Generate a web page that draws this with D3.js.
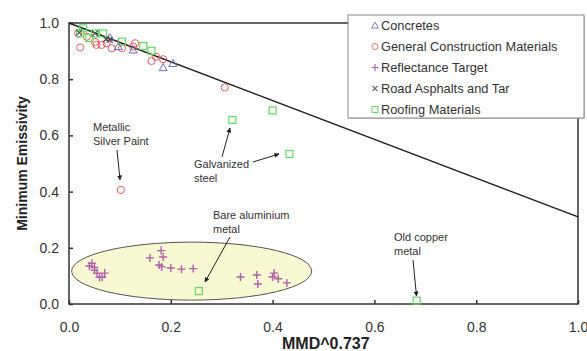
<!DOCTYPE html>
<html>
<head>
<meta charset="utf-8">
<script src="https://cdn.jsdelivr.net/npm/d3@7"></script>
<style>
  body { margin: 0; background: #fff; }
  text { font-family: "Liberation Sans", Arial, sans-serif; }
</style>
</head>
<body>
<script>
// data
var concretes = [[0.08,0.948],[0.097,0.916],[0.126,0.904],[0.185,0.841],[0.204,0.856]];
var generalConstruction = [[0.022,0.913],[0.018,0.963],[0.035,0.951],[0.051,0.933],[0.054,0.922],[0.064,0.922],
  [0.074,0.928],[0.084,0.91],[0.104,0.91],[0.126,0.916],[0.13,0.928],[0.162,0.865],[0.171,0.88],[0.185,0.871],
  [0.306,0.771],[0.102,0.406]];
var reflectance = [[0.04,0.135],[0.045,0.145],[0.05,0.12],[0.055,0.11],[0.06,0.095],[0.07,0.11],[0.05,0.13],
  [0.065,0.095],[0.159,0.164],[0.181,0.19],[0.185,0.167],[0.177,0.139],[0.182,0.132],[0.2,0.128],[0.221,0.124],
  [0.244,0.126],[0.337,0.096],[0.369,0.103],[0.371,0.071],[0.4,0.096],[0.403,0.11],[0.411,0.09],[0.428,0.075]];
var roadAsphalts = [[0.02,0.966],[0.051,0.963],[0.073,0.942],[0.08,0.94]];
var roofing = [[0.028,0.981],[0.022,0.963],[0.04,0.946],[0.051,0.963],[0.067,0.963],[0.104,0.934],[0.146,0.918],
  [0.162,0.901],[0.255,0.046],[0.683,0.012],[0.321,0.655],[0.4,0.689],[0.433,0.534]];
var trendLine = [[0,1.0],[1.0,0.31]];
var xTicks = [0, 0.2, 0.4, 0.6, 0.8, 1.0];
var yTicks = [0, 0.2, 0.4, 0.6, 0.8, 1.0];

var w = 587, h = 351;
var svg = d3.select("body").append("svg").attr("width", w).attr("height", h);

var x = d3.scaleLinear().domain([0, 1]).range([69, 578]);
var y = d3.scaleLinear().domain([0, 1]).range([304, 23]);

// highlighted zone around the metals
svg.append("ellipse")
  .attr("cx", x(0.241)).attr("cy", y(0.117))
  .attr("rx", 120).attr("ry", 29)
  .attr("fill", "#f8f8d2").attr("stroke", "#555").attr("stroke-width", 1);

// frame
svg.append("rect")
  .attr("x", x(0)).attr("y", y(1)).attr("width", x(1) - x(0)).attr("height", y(0) - y(1))
  .attr("fill", "none").attr("stroke", "#333").attr("stroke-width", 1.5);

var xAxis = svg.append("g").attr("transform", "translate(0," + y(0) + ")")
  .call(d3.axisBottom(x).tickValues(xTicks).tickFormat(d3.format(".1f")).tickSize(-4).tickPadding(18));
var yAxis = svg.append("g").attr("transform", "translate(" + x(0) + ",0)")
  .call(d3.axisLeft(y).tickValues(yTicks).tickFormat(d3.format(".1f")).tickSize(-4).tickPadding(10));
[xAxis, yAxis].forEach(function(g){
  g.select(".domain").remove();
  g.selectAll("line").attr("stroke", "#333").attr("stroke-width", 1.5);
  g.selectAll("text").attr("font-size", 14).attr("fill", "#333")
    .attr("font-family", "Liberation Sans, Arial, sans-serif");
});

// trend line
svg.append("line")
  .attr("x1", x(trendLine[0][0])).attr("y1", y(trendLine[0][1]))
  .attr("x2", x(trendLine[1][0])).attr("y2", y(trendLine[1][1]))
  .attr("stroke", "#222").attr("stroke-width", 1.5);

var sym = {
  triangle: function(s){ s.append("path").attr("d", "M0,-4L4,3L-4,3Z").attr("fill","none").attr("stroke","#6b6bbf").attr("stroke-width",1); },
  circle: function(s){ s.append("circle").attr("r", 3.6).attr("fill","none").attr("stroke","#ee5a5a").attr("stroke-width",1); },
  plus: function(s){ s.append("path").attr("d", "M-4,0H4M0,-4V4").attr("stroke","#b060a8").attr("stroke-width",1.4); },
  cross: function(s){ s.append("path").attr("d", "M-3,-3L3,3M-3,3L3,-3").attr("stroke","#555").attr("stroke-width",1.2); },
  square: function(s){ s.append("rect").attr("x",-3.5).attr("y",-3.5).attr("width",7).attr("height",7).attr("fill","none").attr("stroke","#5fdc5f").attr("stroke-width",1.2); }
};

function plot(data, kind){
  svg.append("g").selectAll("g").data(data).enter().append("g")
    .attr("transform", function(d){ return "translate(" + x(d[0]) + "," + y(d[1]) + ")"; })
    .each(function(){ sym[kind](d3.select(this)); });
}
plot(generalConstruction, "circle");
plot(roofing, "square");
plot(concretes, "triangle");
plot(reflectance, "plus");
plot(roadAsphalts, "cross");

// annotations
svg.append("defs").append("marker").attr("id", "arr")
  .attr("viewBox", "0 0 10 10").attr("refX", 9).attr("refY", 5)
  .attr("markerWidth", 5).attr("markerHeight", 5).attr("orient", "auto")
  .append("path").attr("d", "M0,0L10,5L0,10Z").attr("fill", "#222");

var notes = [
  {lines: ["Metallic", "Silver Paint"], tx: 93, ty: 131, arrows: [[117, 150, 120, 180]]},
  {lines: ["Galvanized", "steel"], tx: 194, ty: 168, arrows: [[222, 157, 230, 128], [253, 162, 279, 154]]},
  {lines: ["Bare aluminium", "metal"], tx: 213, ty: 219, arrows: [[230, 237, 205, 282]]},
  {lines: ["Old copper", "metal"], tx: 394, ty: 240.5, arrows: [[413, 260, 416.5, 296]]}
];
notes.forEach(function(n){
  var t = svg.append("text").attr("x", n.tx).attr("y", n.ty)
    .attr("font-size", 11).attr("fill", "#333");
  n.lines.forEach(function(l, i){
    t.append("tspan").attr("x", n.tx).attr("dy", i ? 14 : 0).text(l);
  });
  n.arrows.forEach(function(a){
    svg.append("line").attr("x1", a[0]).attr("y1", a[1]).attr("x2", a[2]).attr("y2", a[3])
      .attr("stroke", "#222").attr("stroke-width", 1).attr("marker-end", "url(#arr)");
  });
});

// axis titles
svg.append("text").attr("transform", "translate(27," + ((y(0) + y(1)) / 2) + ") rotate(-90)")
  .attr("text-anchor", "middle").attr("font-size", 14).attr("font-weight", "bold").attr("fill", "#222")
  .text("Minimum Emissivity");
svg.append("text").attr("x", 282).attr("y", 349)
  .attr("font-size", 16).attr("font-weight", "bold").attr("fill", "#222")
  .text("MMD^0.737");

// legend
var legendNames = ["Concretes", "General Construction Materials", "Reflectance Target", "Road Asphalts and Tar", "Roofing Materials"];
var legendKinds = ["triangle", "circle", "plus", "cross", "square"];
var lg = svg.append("g");
lg.append("rect").attr("x", 349).attr("y", 16).attr("width", 236).attr("height", 103)
  .attr("fill", "#999").attr("opacity", 0.5);
lg.append("rect").attr("x", 348).attr("y", 15).attr("width", 236).attr("height", 103)
  .attr("fill", "#fff").attr("stroke", "#888").attr("stroke-width", 1);
legendNames.forEach(function(name, i){
  var g = lg.append("g").attr("transform", "translate(375," + (25.5 + i * 21) + ")");
  sym[legendKinds[i]](g.append("g").attr("transform", "scale(0.85)"));
  g.append("text").attr("x", 6).attr("y", 4.5).attr("font-size", 12.8).attr("fill", "#333").text(name);
});
</script>
</body>
</html>
